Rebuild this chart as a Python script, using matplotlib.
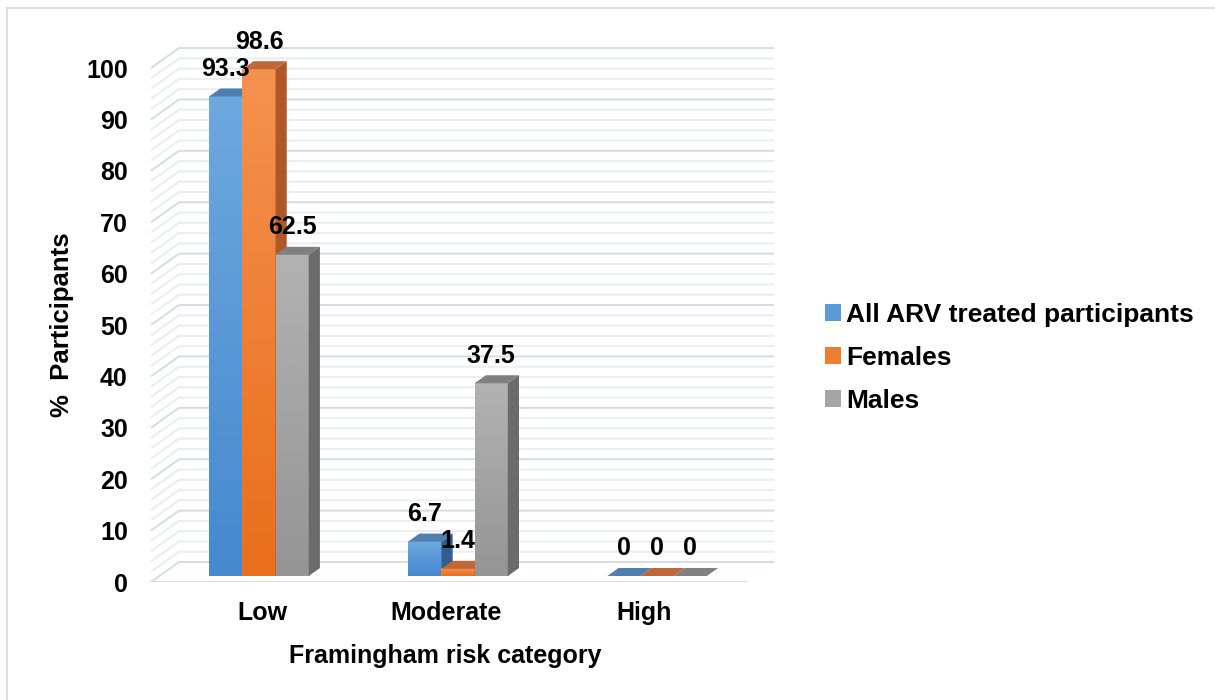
import numpy as np
import matplotlib
matplotlib.use("Agg")
import matplotlib.pyplot as plt
from matplotlib.patches import Polygon, Patch
from matplotlib.colors import LinearSegmentedColormap

plt.rcParams['font.family'] = ['Liberation Sans', 'DejaVu Sans']
plt.rcParams['font.weight'] = 'bold'

categories = ['Low', 'Moderate', 'High']
series_names = ['All ARV treated participants', 'Females', 'Males']
all_arv = [93.3, 6.7, 0]
females = [98.6, 1.4, 0]
males = [62.5, 37.5, 0]
y_ticks = list(range(0, 101, 10))

# face colours per series: front top / front bottom / side / top
front_top = ['#6ea8df', '#f5914f', '#b2b2b2']
front_bot = ['#4589cf', '#e86f1c', '#959595']
side_col = ['#2f5f8f', '#b0572a', '#6b6b6b']
top_col = ['#4e7fb0', '#c0673a', '#808080']
legend_col = ['#5b9bd5', '#ed7d31', '#a5a5a5']

# oblique depth: full depth shifts right DX (category units) and up DY (value units)
DX = 28 / 199
DY = 20 / 5.14
BAR_W = 1 / 6
D_FRONT, D_BACK = 0.3, 0.7
GRID_MAJOR = '#d7dbe4'
GRID_MINOR = '#eaecf1'

fig = plt.figure(figsize=(12.15, 7), dpi=100)
ax = fig.add_axes([150 / 1215, 118 / 700, 650 / 1215, 552 / 700])


def proj(x, v, d):
    return (x + d * DX, v + d * DY)


# walls: back wall and left side wall gridlines
x_left, x_right = -0.5, 2.49
for v in range(0, 101, 2):
    c = GRID_MAJOR if v % 10 == 0 else GRID_MINOR
    p0 = proj(x_left, v, 0)
    p1 = proj(x_left, v, 1)
    p2 = proj(x_right, v, 1)
    ax.plot([p0[0], p1[0], p2[0]], [p0[1], p1[1], p2[1]], color=c, lw=1.4,
            zorder=1, solid_capstyle='butt')
# floor front edge
ax.plot([x_left, x_right], [0, 0], color=GRID_MAJOR, lw=1.4, zorder=1)

values = [all_arv, females, males]
for gi, cat in enumerate(categories):
    for si in range(3):
        v = values[si][gi]
        x0 = gi - 0.25 + si * BAR_W
        x1 = x0 + BAR_W
        fx0, fy0 = proj(x0, 0, D_FRONT)
        fx1, _ = proj(x1, 0, D_FRONT)
        z = 2 + gi * 10 + si * 3
        # front face with vertical gradient
        if v > 0:
            cmap = LinearSegmentedColormap.from_list('f', [front_bot[si], front_top[si]])
            grad = np.linspace(0, 1, 64).reshape(-1, 1)
            ax.imshow(grad, extent=(fx0, fx1, fy0, fy0 + v), origin='lower',
                      cmap=cmap, aspect='auto', zorder=z, interpolation='bilinear')
        # side face
        side = [proj(x1, 0, D_FRONT), proj(x1, 0, D_BACK),
                proj(x1, v, D_BACK), proj(x1, v, D_FRONT)]
        ax.add_patch(Polygon(side, closed=True, facecolor=side_col[si],
                             edgecolor='none', zorder=z + 1))
        # top face
        top = [proj(x0, v, D_FRONT), proj(x1, v, D_FRONT),
               proj(x1, v, D_BACK), proj(x0, v, D_BACK)]
        ax.add_patch(Polygon(top, closed=True, facecolor=top_col[si],
                             edgecolor='none', zorder=z + 2))
        # value label
        lx = (fx0 + fx1) / 2
        ly = v + D_BACK * DY + 1.5
        ax.text(lx, ly, f'{v:g}', ha='center', va='bottom', fontsize=18,
                fontweight='bold', zorder=50)

ax.set_xlim(-0.505, 2.76)
ax.set_ylim(0, 107.4)
ax.set_yticks(y_ticks)
ax.set_yticklabels([str(t) for t in y_ticks], fontsize=18, fontweight='bold')
ax.set_xticks([0.06, 0.98, 1.975])
ax.set_xticklabels(categories, fontsize=18, fontweight='bold')
ax.tick_params(axis='y', length=0, pad=16)
ax.tick_params(axis='x', length=0, pad=14)
for s in ax.spines.values():
    s.set_visible(False)
ax.patch.set_alpha(0)

fig.text(445 / 1215, 1 - 656 / 700, 'Framingham risk category', ha='center',
         va='center', fontsize=18, fontweight='bold')
fig.text(62 / 1215, 1 - 325 / 700, '%  Participants', ha='center', va='center',
         rotation=90, fontsize=18.5, fontweight='bold')

handles = [Patch(facecolor=c, edgecolor='none') for c in legend_col]
fig.legend(handles, series_names, loc='center left',
           bbox_to_anchor=(801 / 1215, 1 - 358 / 700), frameon=False,
           prop={'size': 19, 'weight': 'bold'}, handlelength=0.6,
           handleheight=0.6, handletextpad=0.22, labelspacing=0.72)

# chart border (top and left edges)
fig.add_artist(plt.Line2D([7 / 1215, 7 / 1215], [0, 1 - 8 / 700],
                          transform=fig.transFigure, color='#d9d9d9', lw=1.2))
fig.add_artist(plt.Line2D([7 / 1215, 1], [1 - 8 / 700, 1 - 8 / 700],
                          transform=fig.transFigure, color='#d9d9d9', lw=1.2))

fig.savefig('out.png', dpi=100, facecolor='white')
